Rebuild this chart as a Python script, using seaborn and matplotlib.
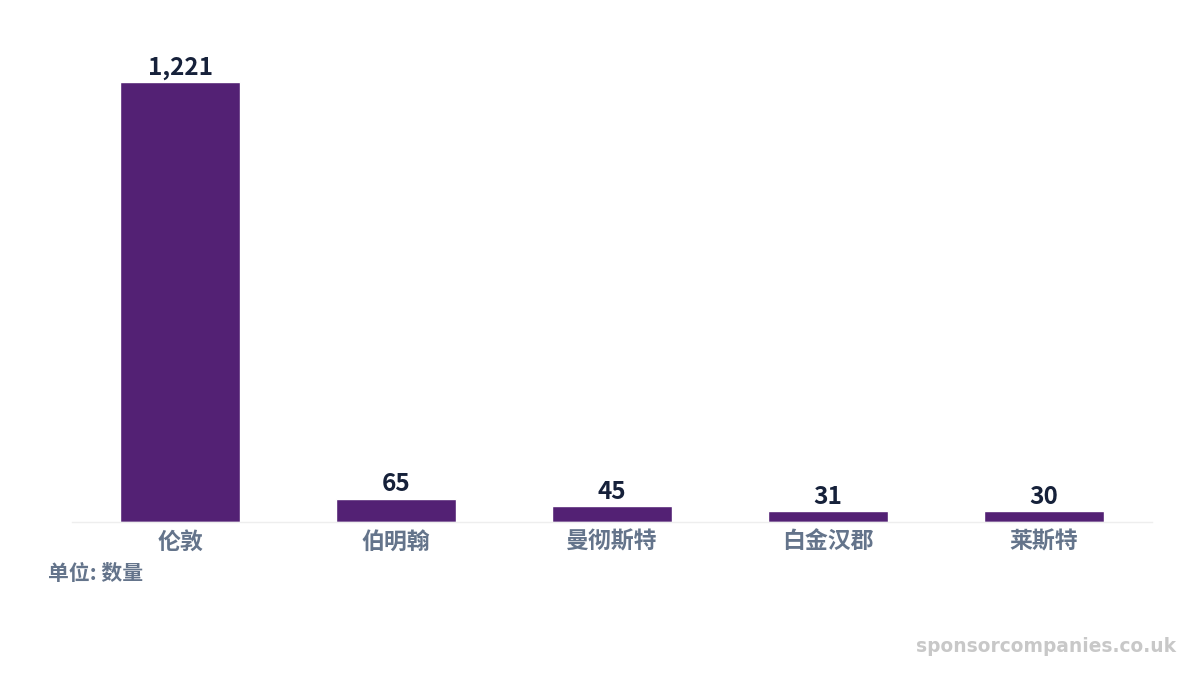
import numpy as np
import pandas as pd
import seaborn as sns
import matplotlib.pyplot as plt

# data
cities = ["伦敦", "伯明翰", "曼彻斯特", "白金汉郡", "莱斯特"]
counts = [1221, 65, 45, 31, 30]
unit_label = "单位: 数量"
watermark = "sponsorcompanies.co.uk"

BAR_COLOR = "#532174"
VALUE_COLOR = "#16213a"
LABEL_COLOR = "#64748b"

sns.set_theme(style="white")
plt.rcParams['font.family'] = ['Noto Sans CJK SC', 'DejaVu Sans']

df = pd.DataFrame({"city": cities, "count": counts})

fig = plt.figure(figsize=(12, 6.75), dpi=100)
ax = fig.add_axes([0.06, 0.2267, 0.9, 0.714])

sns.barplot(data=df, x="city", y="count", color=BAR_COLOR, width=0.555,
            saturation=1, ax=ax)

ax.set_ylim(0, 1221 * 482 / 440)
ax.set_xlim(-0.5, len(cities) - 0.5)
ax.set_xlabel("")
ax.set_ylabel("")
ax.set_yticks([])
for side in ["top", "left", "right"]:
    ax.spines[side].set_visible(False)
ax.spines["bottom"].set_color("#eeeeee")
ax.spines["bottom"].set_linewidth(1)
ax.tick_params(axis="x", length=0, pad=6, labelsize=16.5, labelcolor=LABEL_COLOR)
for lbl in ax.get_xticklabels():
    lbl.set_fontweight("bold")

for i, v in enumerate(counts):
    ax.annotate(f"{v:,}", (i, v), xytext=(0, 1.5), textcoords="offset points",
                ha="center", va="bottom", fontsize=17.5, fontweight="bold",
                color=VALUE_COLOR)

fig.text(48 / 1200, 1 - 573 / 675, unit_label, ha="left", va="center",
         fontsize=15, fontweight="bold", color=LABEL_COLOR)
fig.text(1176 / 1200, 1 - 646 / 675, watermark, ha="right", va="center",
         fontsize=13.4, fontweight="bold", color="#c8c8c8",
         family="DejaVu Sans")

fig.savefig("out.png", dpi=100)
